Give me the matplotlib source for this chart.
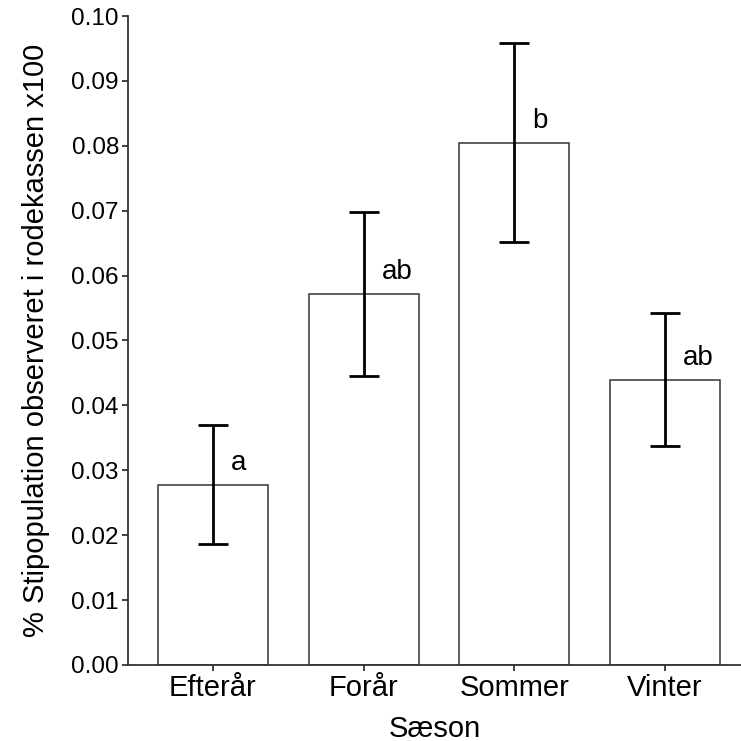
import matplotlib
matplotlib.use("Agg")
import matplotlib.pyplot as plt
import numpy as np

plt.rcParams['font.family'] = ['Liberation Sans', 'DejaVu Sans']

categories = ["Efterår", "Forår", "Sommer", "Vinter"]
means = [0.0278, 0.0571, 0.0805, 0.0439]
err_low = [0.0187, 0.0446, 0.0652, 0.0337]
err_high = [0.0370, 0.0698, 0.0959, 0.0543]
letters = ["a", "ab", "b", "ab"]
yticks = [0.00, 0.01, 0.02, 0.03, 0.04, 0.05, 0.06, 0.07, 0.08, 0.09, 0.10]

fig = plt.figure(figsize=(7.41, 7.41), dpi=100)
ax = fig.add_axes([0.1727, 0.1026, 0.8273, 0.8758])

x = np.arange(len(categories))
m = np.array(means)
yerr = np.vstack([m - np.array(err_low), np.array(err_high) - m])
ax.bar(x, means, width=0.73, color="white", edgecolor="#333333", linewidth=1.1, zorder=2)
ax.errorbar(x, means, yerr=yerr, fmt="none", ecolor="black", elinewidth=2,
            capsize=11, capthick=2, zorder=3)
for xi, mi, lab in zip(x, means, letters):
    ax.text(xi + 0.12, mi + 0.0023, lab, ha="left", va="baseline", fontsize=20)

ax.set_xlim(-0.564, 3.504)
ax.set_ylim(0, 0.10)
ax.set_yticks(yticks)
ax.set_yticklabels([f"{v:.2f}" for v in yticks], fontsize=17.5)
ax.set_xticks(x)
ax.set_xticklabels(categories, fontsize=21)
for s in ["top", "right"]:
    ax.spines[s].set_visible(False)
for s in ["left", "bottom"]:
    ax.spines[s].set_linewidth(1.3)
    ax.spines[s].set_color("#333333")
ax.tick_params(axis="both", length=4.5, width=1.3, color="#333333", pad=2)
ax.set_xlabel("Sæson", fontsize=21, labelpad=9)
ax.set_ylabel("% Stipopulation observeret i rodekassen x100", fontsize=21, labelpad=15)

fig.savefig("out.png", dpi=100)
